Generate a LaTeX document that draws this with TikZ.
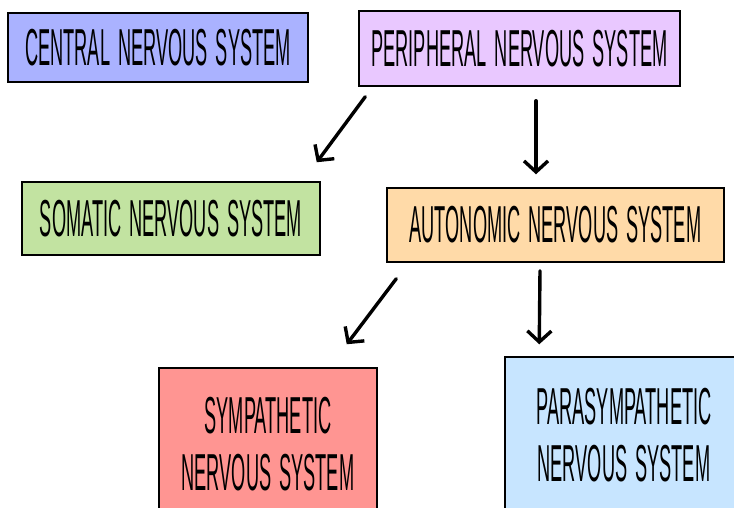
\documentclass[tikz,border=0pt]{standalone}
\usepackage{fontspec}
\newfontfamily\handfont[FakeStretch=0.35,WordSpace=1.6]{Liberation Sans}
\usetikzlibrary{positioning,arrows.meta,calc}
\definecolor{cnsblue}{HTML}{AAB2FF}
\definecolor{pnspurple}{HTML}{E9C8FF}
\definecolor{snsgreen}{HTML}{C2E3A1}
\definecolor{ansorange}{HTML}{FFDAA8}
\definecolor{symred}{HTML}{FF9592}
\definecolor{psnsblue}{HTML}{C7E5FF}
\tikzset{nsbox/.style={rectangle, draw=black, line width=1.5pt, inner sep=2pt,
                       align=center, font=\handfont\fontsize{52}{57}\selectfont},
         narrow/.style={-{Straight Barb[length=11pt,width=24pt]},
                        line width=3.4pt, line cap=round}}

\begin{document}
\begin{tikzpicture}[x=1pt,y=-1pt]

\clip (0,0) rectangle (734,507);
\useasboundingbox (0,0) rectangle (734,507);

\node (CNS) [nsbox, fill=cnsblue, minimum width=300pt, minimum height=69pt]
  at (158,47.5) {CENTRAL NERVOUS SYSTEM};
\node (PNS) [nsbox, fill=pnspurple, minimum width=321pt, minimum height=75pt]
  at (519.5,48.5) {PERIPHERAL NERVOUS SYSTEM};
\node (SNS) [nsbox, fill=snsgreen, minimum width=298pt, minimum height=73pt]
  at (171,218.5) {SOMATIC NERVOUS SYSTEM};
\node (ANS) [nsbox, fill=ansorange, minimum width=337pt, minimum height=74pt]
  at (555.5,225) {AUTONOMIC NERVOUS SYSTEM};
\node (SYM) [nsbox, fill=symred, minimum width=218pt, minimum height=152pt]
  at (268,444) {SYMPATHETIC\\NERVOUS SYSTEM};
\node (PSNS) [nsbox, fill=psnsblue, minimum width=238pt, minimum height=156pt]
  at (624,435) {PARASYMPATHETIC\\NERVOUS SYSTEM};

% arrows
\draw[narrow] ($(PNS.south west)+(7,10)$) -- ($(SNS.north east)+(-4,-19)$);
\draw[narrow] ($(PNS.south)+(16.5,14)$) -- ($(ANS.north)+(-19.5,-13)$);
\draw[narrow] ($(ANS.south west)+(10,16)$) -- ($(SYM.north east)+(-31,-23)$);
\draw[narrow] ($(ANS.south)+(-15.5,8)$) -- ($(PSNS.north west)+(35,-12)$);

\end{tikzpicture}
\end{document}
